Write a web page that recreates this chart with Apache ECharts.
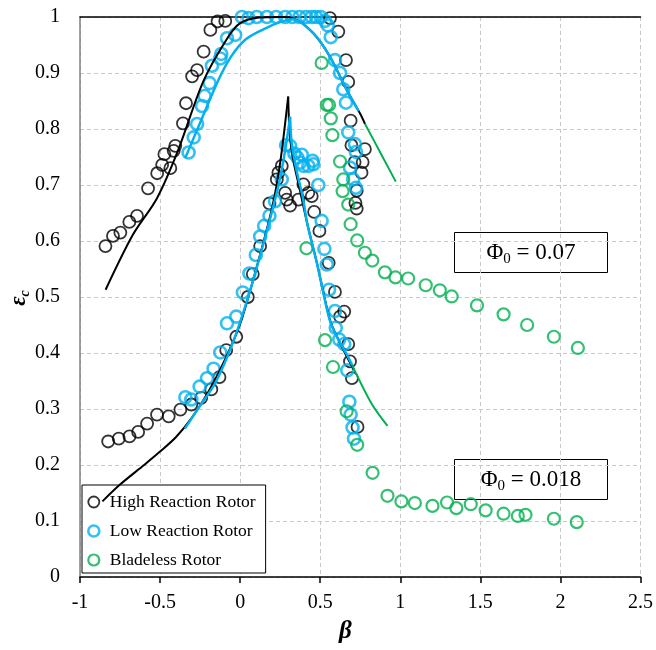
<!DOCTYPE html>
<html><head><meta charset="utf-8">
<script src="https://cdn.jsdelivr.net/npm/echarts/dist/echarts.min.js"></script>
<style>html,body{margin:0;padding:0;background:#fff}#c{width:656px;height:650px}</style>
</head><body><div id="c"></div>
<script>
// ---- Data (beta, epsilon_c) ----
// Phi0 = 0.07 measurements
const highRx07 = [[-0.841,0.591],[-0.794,0.609],[-0.748,0.615],[-0.692,0.634],[-0.644,0.645],[-0.575,0.694],[-0.518,0.721],[-0.487,0.736],[-0.436,0.730],[-0.473,0.755],[-0.415,0.761],[-0.405,0.770],[-0.357,0.810],[-0.338,0.846],[-0.300,0.894],[-0.269,0.905],[-0.228,0.938],[-0.186,0.977],[-0.141,0.992],[-0.093,0.993],[0.561,0.998],[0.613,0.974],[0.661,0.923],[0.675,0.884],[0.690,0.815],[0.695,0.771],[0.779,0.764],[0.765,0.741],[0.715,0.741],[0.758,0.722],[0.728,0.690],[0.720,0.668],[0.728,0.658]];
const lowRx07 = [[-0.322,0.758],[-0.290,0.785],[-0.269,0.809],[-0.238,0.841],[-0.222,0.859],[-0.191,0.882],[-0.176,0.913],[-0.124,0.926],[-0.118,0.934],[-0.082,0.962],[-0.031,0.968],[0.011,1.0],[0.052,0.998],[0.104,1.0],[0.167,1.0],[0.225,1.0],[0.281,1.0],[0.326,1.0],[0.370,1.0],[0.412,1.0],[0.447,1.0],[0.474,1.0],[0.503,1.0],[0.530,0.993],[0.547,0.985],[0.566,0.964],[0.592,0.923],[0.624,0.900],[0.644,0.871],[0.661,0.847],[0.675,0.794],[0.717,0.773],[0.723,0.759],[0.686,0.731],[0.706,0.710],[0.723,0.695]];
const bladeless07 = [[0.509,0.918],[0.541,0.843],[0.555,0.843],[0.566,0.819],[0.576,0.789],[0.624,0.742],[0.644,0.710],[0.640,0.689],[0.675,0.665],[0.690,0.630],[0.731,0.601],[0.779,0.579],[0.825,0.565],[0.904,0.544],[0.970,0.535],[1.049,0.533],[1.159,0.521],[1.247,0.512],[1.321,0.501],[1.479,0.485],[1.645,0.469],[1.792,0.450],[1.959,0.429],[2.109,0.409]];
// Phi0 = 0.018 measurements
const highRx018 = [[-0.824,0.242],[-0.758,0.247],[-0.691,0.251],[-0.637,0.259],[-0.581,0.274],[-0.519,0.290],[-0.446,0.287],[-0.373,0.299],[-0.305,0.308],[-0.243,0.320],[-0.180,0.335],[-0.129,0.357],[-0.087,0.405],[-0.024,0.429],[0.048,0.500],[0.079,0.541],[0.125,0.591],[0.183,0.667],[0.229,0.710],[0.239,0.722],[0.260,0.734],[0.281,0.686],[0.291,0.674],[0.312,0.663],[0.364,0.674],[0.395,0.701],[0.426,0.686],[0.447,0.680],[0.462,0.652],[0.495,0.618],[0.553,0.561],[0.592,0.509],[0.650,0.474],[0.624,0.465],[0.675,0.416],[0.686,0.385],[0.698,0.355],[0.733,0.268]];
const lowRx018 = [[-0.342,0.321],[-0.305,0.317],[-0.253,0.340],[-0.207,0.355],[-0.166,0.372],[-0.124,0.401],[-0.082,0.453],[-0.024,0.465],[0.017,0.508],[0.058,0.542],[0.098,0.575],[0.125,0.608],[0.150,0.627],[0.183,0.645],[0.218,0.671],[0.260,0.710],[0.287,0.771],[0.312,0.770],[0.339,0.756],[0.358,0.749],[0.385,0.754],[0.374,0.740],[0.395,0.734],[0.426,0.734],[0.453,0.743],[0.457,0.737],[0.488,0.700],[0.509,0.636],[0.526,0.586],[0.541,0.558],[0.555,0.513],[0.592,0.475],[0.597,0.445],[0.619,0.424],[0.650,0.416],[0.669,0.369],[0.682,0.313],[0.690,0.290],[0.702,0.267],[0.711,0.247]];
const bladeless018 = [[0.414,0.587],[0.530,0.423],[0.580,0.375],[0.665,0.296],[0.731,0.236],[0.827,0.186],[0.920,0.145],[1.007,0.135],[1.091,0.132],[1.201,0.127],[1.292,0.133],[1.350,0.123],[1.440,0.130],[1.533,0.119],[1.645,0.113],[1.734,0.109],[1.782,0.111],[1.959,0.104],[2.102,0.098]];
// Model curves
const curveHigh07 = [[-0.84,0.513],[-0.67,0.611],[-0.52,0.676],[-0.39,0.76],[-0.23,0.885],[-0.08,0.962],[0.0,0.989],[0.12,0.999],[0.25,1.0],[0.33,0.998],[0.457,0.971],[0.561,0.929],[0.665,0.870],[0.748,0.828],[0.78,0.809]];
const curveLow07 = [[-0.343,0.748],[-0.24,0.818],[-0.135,0.888],[-0.06,0.928],[0.03,0.959],[0.145,0.978],[0.24,0.99],[0.33,0.996],[0.457,0.971],[0.561,0.929],[0.665,0.870],[0.74,0.832]];
const curveBlade07 = [[0.78,0.809],[0.875,0.758],[0.972,0.706]];
const curveHigh018L = [[-0.86,0.135],[-0.75,0.165],[-0.6,0.2],[-0.5,0.224],[-0.4,0.25],[-0.3,0.285],[-0.2,0.33],[-0.1,0.385],[0.0,0.452],[0.1,0.55],[0.2,0.66],[0.25,0.74],[0.30,0.858]];
const curveHigh018R = [[0.30,0.858],[0.31,0.79],[0.335,0.74],[0.37,0.695],[0.42,0.63],[0.48,0.56],[0.56,0.46],[0.62,0.42],[0.665,0.394],[0.71,0.37]];
const curveLow018L = [[-0.345,0.265],[-0.25,0.306],[-0.156,0.346],[-0.05,0.415],[0.05,0.50],[0.15,0.6],[0.24,0.70],[0.28,0.76],[0.312,0.822]];
const curveLow018R = [[0.312,0.822],[0.322,0.774],[0.353,0.725],[0.39,0.68],[0.42,0.63],[0.48,0.56],[0.56,0.458],[0.62,0.42],[0.665,0.398],[0.70,0.378]];
const curveBlade018 = [[0.70,0.378],[0.82,0.31],[0.92,0.27]];
const seriesNames = ['High Reaction Rotor','Low Reaction Rotor','Bladeless Rotor'];
const boxLabels = ['0.07','0.018'];

const BLACK='#000000', BLUE='#00b0f0', GREEN='#00b050';
const FONT='Liberation Serif';
const chart = echarts.init(document.getElementById('c'), null, {renderer:'canvas'});

function sc(name, data, color, bw){
  return {type:'scatter', name, data, symbol:'circle', symbolSize:12, z:3,
    itemStyle:{color:'rgba(0,0,0,0)', borderColor:color, borderWidth:bw}, emphasis:{disabled:true}};
}
let lc = 0;
function ln(data, color, w){
  lc++;
  return {type:'line', name:'_curve'+lc, data, showSymbol:false, smooth:0.3, z:4,
    lineStyle:{color, width:w}, itemStyle:{color}, emphasis:{disabled:true}, silent:true};
}
function boxText(x, y, val){
  return {type:'group', left:x, top:y, children:[
    {type:'rect', shape:{x:0,y:0,width:153,height:40}, style:{fill:'#fff', stroke:'#000', lineWidth:1}},
    {type:'text', x:76.5, y:20, style:{text:'{a|Φ}{s|0}{a| = '+val+'}', align:'center', verticalAlign:'middle',
      rich:{a:{fontFamily:FONT, fontSize:23, lineHeight:26, fill:'#000'}, s:{fontFamily:FONT, fontSize:15, lineHeight:15, padding:[13,0,0,0], fill:'#000'}}}}
  ]};
}
const split = {show:true, lineStyle:{color:'#c8c8c8', type:[4,3], width:1}};

chart.setOption({
  backgroundColor:'#fff',
  animation:false,
  grid:{left:80, right:15, top:17, bottom:73, show:false},
  xAxis:[{type:'value', min:-1, max:2.5, interval:0.5, position:'bottom',
    axisLine:{onZero:false, lineStyle:{color:'#000', width:1.5}},
    axisTick:{show:true, inside:false, length:6, lineStyle:{color:'#000', width:1.5}},
    axisLabel:{fontFamily:FONT, fontSize:20, color:'#000', margin:16},
    splitLine:split},
    {type:'value', min:-1, max:2.5, interval:0.5, position:'top',
    axisLine:{onZero:false, lineStyle:{color:'#000', width:1.5}},
    axisTick:{show:false}, axisLabel:{show:false}, splitLine:{show:false}}],
  yAxis:{type:'value', min:0, max:1, interval:0.1,
    axisLine:{show:true, onZero:false, lineStyle:{color:'#808080', width:1.5}},
    axisTick:{show:false},
    axisLabel:{fontFamily:FONT, fontSize:20, color:'#000', margin:20},
    splitLine:split},
  legend:{orient:'vertical', left:82, top:485, backgroundColor:'#fff', borderColor:'#000', borderWidth:1,
    padding:[8,10,4,5], itemGap:11, itemWidth:12, itemHeight:11, icon:'circle',
    textStyle:{fontFamily:FONT, fontSize:17.5, color:'#000', padding:[0,0,0,5]},
    data:[
      {name:seriesNames[0], itemStyle:{color:'rgba(0,0,0,0)', borderColor:BLACK, borderWidth:1.8}},
      {name:seriesNames[1], itemStyle:{color:'rgba(0,0,0,0)', borderColor:BLUE, borderWidth:2.6}},
      {name:seriesNames[2], itemStyle:{color:'rgba(0,0,0,0)', borderColor:GREEN, borderWidth:2.2}}]},
  graphic:[
    boxText(454,232,boxLabels[0]),
    boxText(454,459,boxLabels[1]),
    {type:'text', left:339, top:619, style:{text:'β', fontFamily:FONT, fontSize:25, fontWeight:'bold', fontStyle:'italic', fill:'#000'}},
    {type:'text', x:19, y:298, rotation:Math.PI/2, style:{text:'{a|ε}{s|c}', align:'center', verticalAlign:'middle',
      rich:{a:{fontFamily:FONT, fontSize:23, fontWeight:'bold', fontStyle:'italic', lineHeight:24, fill:'#000'},
            s:{fontFamily:FONT, fontSize:14, fontWeight:'bold', fontStyle:'italic', lineHeight:14, padding:[12,0,0,0], fill:'#000'}}}}
  ],
  series:[
    sc(seriesNames[0], highRx07, BLACK, 1.8),
    sc(seriesNames[0], highRx018, BLACK, 1.8),
    sc(seriesNames[1], lowRx07, BLUE, 2.6),
    sc(seriesNames[1], lowRx018, BLUE, 2.6),
    sc(seriesNames[2], bladeless07, GREEN, 2.2),
    sc(seriesNames[2], bladeless018, GREEN, 2.2),
    ln(curveHigh07, BLACK, 2),
    ln(curveLow07, BLUE, 2.5),
    ln(curveBlade07, GREEN, 2),
    ln(curveHigh018L, BLACK, 2),
    ln(curveHigh018R, BLACK, 2),
    ln(curveLow018L, BLUE, 2.5),
    ln(curveLow018R, BLUE, 2.5),
    ln(curveBlade018, GREEN, 2)
  ]
});
</script></body></html>
